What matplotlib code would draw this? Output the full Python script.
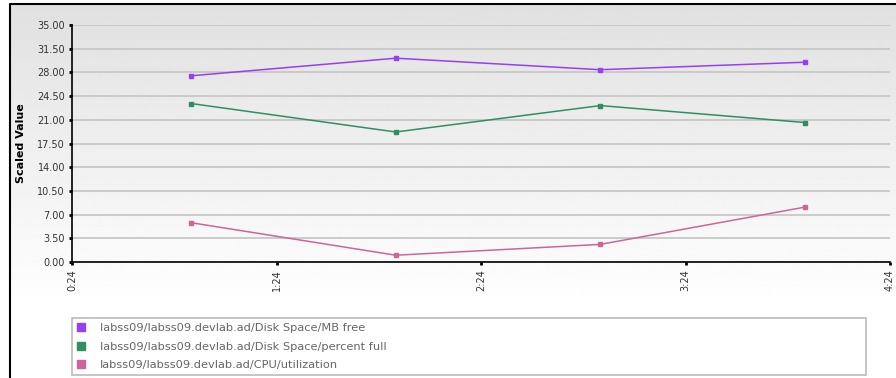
import numpy as np
import matplotlib.pyplot as plt

# minutes since 0:00
tick_minutes = [24, 84, 144, 204, 264]
tick_labels = ["0:24", "1:24", "2:24", "3:24", "4:24"]
sample_minutes = [59, 119, 179, 239]

mb_free = [27.5, 30.1, 28.4, 29.5]
pct_full = [23.4, 19.2, 23.1, 20.6]
cpu_util = [5.8, 1.0, 2.6, 8.1]

series_names = [
    "labss09/labss09.devlab.ad/Disk Space/MB free",
    "labss09/labss09.devlab.ad/Disk Space/percent full",
    "labss09/labss09.devlab.ad/CPU/utilization",
]
series_colors = ["#9640f0", "#2f8f62", "#cc6699"]

y_ticks = [0, 3.5, 7, 10.5, 14, 17.5, 21, 24.5, 28, 31.5, 35]

W, H = 896, 378
fig = plt.figure(figsize=(W / 100, H / 100), dpi=100)

# background: grey gradient inside a black frame
bg = fig.add_axes([0, 0, 1, 1])
bg.set_xlim(0, W)
bg.set_ylim(H, 0)
bg.axis("off")
grad = np.linspace(0.88, 1.0, 256).reshape(-1, 1)
grad = np.concatenate([grad, np.ones((60, 1))])
bg.imshow(grad, cmap="gray", vmin=0, vmax=1, aspect="auto",
          extent=[10, W, H, 4], zorder=0)
bg.plot([10, 10, W], [H, 4, 4], color="black", lw=1.5, zorder=1)

# main plot area
x0, x1 = 72, 890
ytop, ybot = 25, 262
ax = fig.add_axes([x0 / W, 1 - ybot / H, (x1 - x0) / W, (ybot - ytop) / H])
ax.patch.set_alpha(0)

for vals, name, col in zip([mb_free, pct_full, cpu_util], series_names, series_colors):
    ax.plot(sample_minutes, vals, color=col, lw=1.1, marker="s", ms=3,
            label=name, zorder=3)

ax.set_xlim(tick_minutes[0], tick_minutes[-1])
ax.set_ylim(0, 35)
ax.set_yticks(y_ticks)
ax.set_yticklabels([f"{v:.2f}" for v in y_ticks], fontsize=7, color="#333333")
ax.set_xticks(tick_minutes)
ax.set_xticklabels(tick_labels, rotation=90, fontsize=7, color="#333333")
ax.yaxis.grid(True, color="#c4c4c4", lw=1.2)
ax.set_axisbelow(True)
for s in ["top", "right"]:
    ax.spines[s].set_visible(False)
ax.spines["left"].set_linewidth(1.2)
ax.spines["bottom"].set_linewidth(1.2)
ax.tick_params(length=2, width=2, pad=3)
ax.set_ylabel("Scaled Value", fontsize=8, fontweight="bold", labelpad=8)

leg = fig.legend(loc="upper left",
                 bbox_to_anchor=(x0 / W, 1 - 375 / H, (866 - x0) / W, 57 / H),
                 mode="expand", borderaxespad=0, fontsize=8.2, frameon=True,
                 fancybox=False, handlelength=0.6, handletextpad=1.4,
                 labelspacing=0.75, borderpad=0.45)
for h in leg.legend_handles:
    h.set_linestyle("none")
    h.set_markersize(6)
for t in leg.get_texts():
    t.set_color("#666666")
leg.get_frame().set_edgecolor("#aaaaaa")
leg.get_frame().set_linewidth(1.2)

fig.savefig("out.png", dpi=100)
